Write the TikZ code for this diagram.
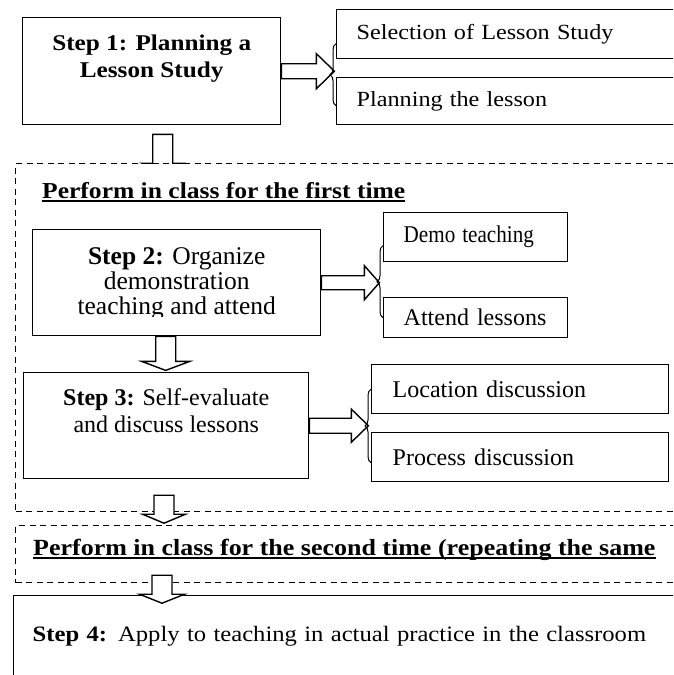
\documentclass[tikz,border=0pt]{standalone}
\usepackage{fontspec}
\setmainfont{Liberation Serif}
\newfontfamily\cambria[FakeStretch=1.12]{Liberation Serif}
\usepackage{graphicx}
\usepackage{tikz}
\usetikzlibrary{calc, decorations.pathreplacing}

\begin{document}
\begin{tikzpicture}[x=1pt, y=-1pt]
    \tikzset{%
        stepbox/.style={draw, line width=1.4pt, fill=white, anchor=north west, inner sep=0pt},
        subbox/.style={draw, line width=1.4pt, fill=white, anchor=north west, inner xsep=20pt, inner ysep=0pt, align=left},
        passbox/.style={draw, line width=1.2pt, dash pattern=on 6pt off 4.5pt, fill=white, anchor=north west, inner sep=0pt},
        steptext/.style={anchor=north, align=center, inner sep=0pt},
        passtext/.style={anchor=base west, inner sep=0pt, font=\cambria\bfseries\fontsize{22.8}{27}\selectfont},
        blockarrow/.style={draw, line width=1.4pt, fill=white, line join=miter},
        bracket/.style={decorate, decoration={brace, amplitude=6pt}, line width=1pt},
        pics/rarrow/.style args={#1/#2/#3/#4}{code={%
                \draw[blockarrow] (0,-#2) -- ({#1-#4},-#2) -- ({#1-#4},-#3) -- (#1,0)
                    -- ({#1-#4},#3) -- ({#1-#4},#2) -- (0,#2) -- cycle;
            }},
        pics/darrow/.style args={#1/#2/#3/#4}{code={%
                \draw[blockarrow] (-#2,0) -- (-#2,{#1-#4}) -- (-#3,{#1-#4}) -- (0,#1)
                    -- (#3,{#1-#4}) -- (#2,{#1-#4}) -- (#2,0) -- cycle;
            }}
    }

    \useasboundingbox (0,0) rectangle (673,675);
    \clip (0,0) rectangle (673,675);

    % step 1 and its two parts
    \node[stepbox, minimum width=258pt, minimum height=107pt] (s1) at (22,17) {};
    \node[steptext, font=\cambria\bfseries\fontsize{22.5}{27}\selectfont] (s1t) at ($(s1.north)+(0,17.8)$) {Step 1: Planning a\\Lesson Study};
    \node[subbox, text width=324pt, minimum height=49pt, font=\cambria\fontsize{21.6}{26}\selectfont] (sel) at (336,9) {Selection of Lesson Study};
    \node[subbox, text width=324pt, minimum height=47pt, font=\cambria\fontsize{21.6}{26}\selectfont] (plan) at (336,77) {Planning the lesson};
    \pic at (s1.east) {rarrow=53/7.5/17.5/18};
    \draw[bracket] ([yshift=-4.5pt]plan.west) -- ([yshift=-9.5pt]sel.west);
    \pic at ($(s1.south)+(11,9)$) {darrow=37/10/20/8};

    % first time in class
    \node[passbox, minimum width=685pt, minimum height=348pt] (pass1) at (15,163) {};
    \node[passtext] (h1) at ($(pass1.north west)+(27,35)$) {Perform in class for the first time};
    \draw[line width=1.5pt] ([yshift=-3pt]h1.base west) -- ([yshift=-3pt]h1.base east);

    \node[stepbox, minimum width=288pt, minimum height=106pt] (s2) at (32,229) {};
    \begin{scope}
        \clip (s2.north west) rectangle ($(s2.south east)+(0,-20)$);
        \node[steptext, font=\fontsize{25.5}{25}\selectfont] (s2t) at ($(s2.north)+(0,18.4)$) {\textbf{Step 2:} Organize\\demonstration\\teaching and attend};
    \end{scope}
    \node[subbox, text width=144pt, minimum height=49pt, font=\fontsize{24}{28}\selectfont] (demo) at (383,212) {\scalebox{0.88}[1]{Demo teaching}};
    \node[subbox, text width=144pt, minimum height=40pt, font=\fontsize{24}{28}\selectfont] (attend) at (383,297) {Attend lessons};
    \pic at (s2.east) {rarrow=58/7/17/15};
    \draw[bracket] (attend.west) -- ([yshift=-8.5pt]demo.west);
    \pic at ($(s2.south)+(-11,0)$) {darrow=34/10/24/9};

    \node[stepbox, minimum width=285pt, minimum height=106pt] (s3) at (23,372) {};
    \node[steptext, font=\fontsize{24}{27}\selectfont] (s3t) at ($(s3.north)+(0,16.6)$) {\textbf{Step 3:} Self-evaluate\\and discuss lessons};
    \node[subbox, inner xsep=21pt, text width=255pt, minimum height=49pt, font=\fontsize{24}{28}\selectfont] (loc) at (371,364) {Location discussion};
    \node[subbox, inner xsep=21pt, text width=255pt, minimum height=49pt, font=\fontsize{24}{28}\selectfont] (proc) at (371,432) {Process discussion};
    \pic at (s3.east) {rarrow=59/7.5/16.5/17};
    \draw[bracket] ([yshift=-5.5pt]proc.west) -- (loc.west);
    \pic at ($(pass1.south west)+(149,-17)$) {darrow=28/10/21.5/9};

    % second time in class
    \node[passbox, minimum width=685pt, minimum height=57pt] (pass2) at (15,525) {};
    \node[passtext, font=\cambria\bfseries\fontsize{23.2}{27}\selectfont] (h2) at ($(pass2.north west)+(18,30)$) {Perform in class for the second time (repeating the same};
    \draw[line width=1.5pt] ([yshift=-3pt]h2.base west) -- ([yshift=-3pt]h2.base east);

    % step 4
    \node[stepbox, inner xsep=19pt, text width=649pt, minimum height=82pt, align=left, font=\cambria\fontsize{22}{27}\selectfont] (s4) at (13,595) {\textbf{Step 4:} Apply to teaching in actual practice in the classroom};
    \pic at ($(pass2.south west)+(147,-8)$) {darrow=28/10/22.5/9};
\end{tikzpicture}
\end{document}
